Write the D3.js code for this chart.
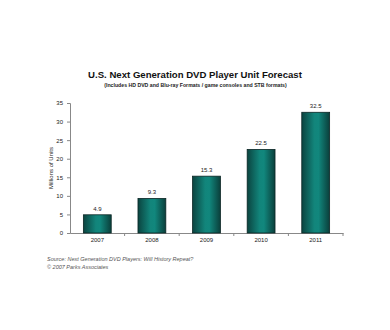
<!DOCTYPE html>
<html><head><meta charset="utf-8">
<script src="https://cdn.jsdelivr.net/npm/d3@7"></script>
<style>body{margin:0;background:#fff}svg{display:block;font-family:Arial,"Liberation Sans",sans-serif}</style>
</head><body>
<svg id="c" width="390" height="330"></svg>
<script>
const categories = ["2007","2008","2009","2010","2011"];
const values = [4.9, 9.3, 15.3, 22.5, 32.5];
const labels = ["4.9","9.3","15.3","22.5","32.5"];
const yTicks = [0,5,10,15,20,25,30,35];

const svg = d3.select("#c");
const x = d3.scaleBand().domain(categories).range([70,343]).paddingInner(0.49).paddingOuter(0.245);
const y = d3.scaleLinear().domain([0,35]).range([233,103]);

const defs = svg.append("defs");
const g = defs.append("linearGradient").attr("id","bg").attr("x1","0").attr("x2","1").attr("y1","0").attr("y2","0");
g.append("stop").attr("offset","0").attr("stop-color","#0b4440");
g.append("stop").attr("offset","0.45").attr("stop-color","#12857b");
g.append("stop").attr("offset","0.6").attr("stop-color","#11877d");
g.append("stop").attr("offset","1").attr("stop-color","#0a3f3b");

svg.append("text").attr("x",195).attr("y",78).attr("text-anchor","middle")
  .attr("font-size",9.6).attr("font-weight","bold").attr("fill","#111")
  .text("U.S. Next Generation DVD Player Unit Forecast");
svg.append("text").attr("x",195.5).attr("y",86.5).attr("text-anchor","middle")
  .attr("font-size",5.2).attr("font-weight","bold").attr("fill","#222")
  .text("(Includes HD DVD and Blu-ray Formats / game consoles and STB formats)");

// y axis
const ya = svg.append("g").attr("transform","translate(70,0)")
  .call(d3.axisLeft(y).tickValues(yTicks).tickSize(3).tickPadding(4));
ya.selectAll("text").attr("font-size",6).attr("fill","#222");
ya.selectAll("line,path").attr("stroke","#888");

// x axis
const xa = svg.append("g").attr("transform","translate(0,233)")
  .call(d3.axisBottom(x).tickSize(0).tickPadding(5));
xa.selectAll("text").attr("font-size",6).attr("fill","#222");
xa.select("path").attr("stroke","#888");
const bounds = categories.map((c,i)=> 70 + (i+1)*x.step());
svg.append("g").selectAll("line").data(bounds).join("line")
  .attr("x1",d=>d).attr("x2",d=>d).attr("y1",233).attr("y2",236).attr("stroke","#888");

svg.append("text").attr("transform","translate(53,168) rotate(-90)").attr("text-anchor","middle")
  .attr("font-size",6).attr("fill","#222").text("Millions of Units");

svg.append("g").selectAll("rect").data(values).join("rect")
  .attr("x",(d,i)=>x(categories[i])).attr("width",x.bandwidth())
  .attr("y",d=>y(d)).attr("height",d=>y(0)-y(d))
  .attr("fill","url(#bg)").attr("stroke","#0a2524").attr("stroke-width",0.8);

svg.append("g").selectAll("text").data(values).join("text")
  .attr("x",(d,i)=>x(categories[i])+x.bandwidth()/2).attr("y",d=>y(d)-4)
  .attr("text-anchor","middle").attr("font-size",6).attr("fill","#222")
  .text((d,i)=>labels[i]);

svg.append("text").attr("x",47).attr("y",261).attr("font-size",5.5).attr("font-style","italic").attr("fill","#555")
  .text("Source:  Next Generation DVD Players:  Will History Repeat?");
svg.append("text").attr("x",47).attr("y",269).attr("font-size",5.5).attr("font-style","italic").attr("fill","#555")
  .text("© 2007 Parks Associates");
</script>
</body></html>
